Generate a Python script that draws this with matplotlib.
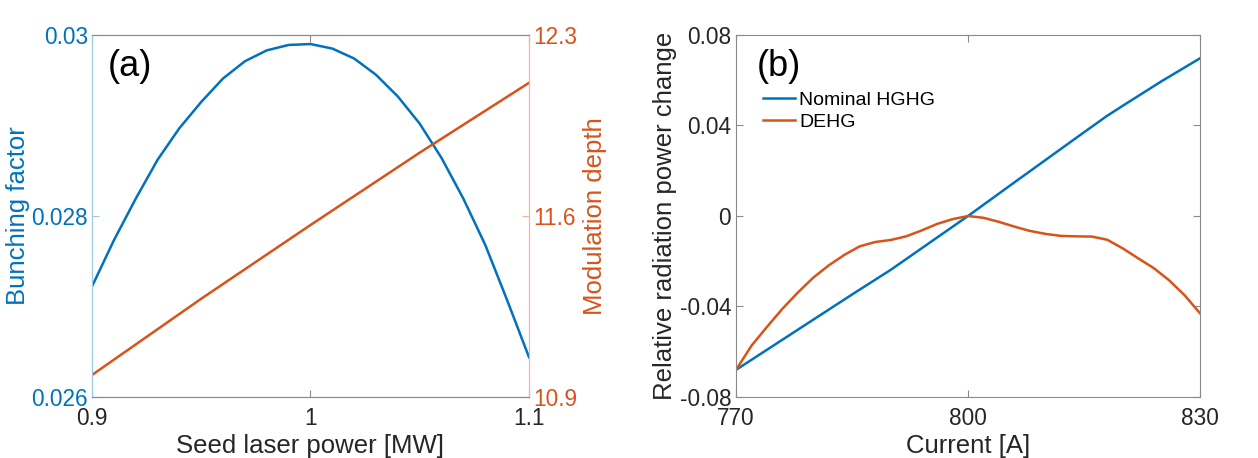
import numpy as np
import matplotlib
matplotlib.use('Agg')
import matplotlib.pyplot as plt

plt.rcParams['font.family'] = ['Liberation Sans', 'DejaVu Sans']
plt.rcParams['axes.unicode_minus'] = False

# (a) seed laser power scan
power = [0.90, 0.91, 0.92, 0.93, 0.94, 0.95, 0.96, 0.97, 0.98, 0.99, 1.00,
         1.01, 1.02, 1.03, 1.04, 1.05, 1.06, 1.07, 1.08, 1.09, 1.10]
bunching = [0.02722, 0.02773, 0.02819, 0.02862, 0.02897, 0.02926, 0.02952,
            0.02971, 0.02983, 0.02989, 0.02990, 0.02985, 0.02974, 0.02956,
            0.02932, 0.02902, 0.02864, 0.02819, 0.02768, 0.02707, 0.02644]
power_md = [0.90, 0.95, 1.00, 1.05, 1.10]
mod_depth = [10.985, 11.280, 11.565, 11.845, 12.115]

# (b) current scan
current_hghg = [770, 775, 780, 785, 790, 795, 800, 805, 810, 815, 818, 820, 825, 830]
hghg = [-0.0680, -0.0569, -0.0458, -0.0347, -0.0238, -0.0119, 0.0,
        0.0124, 0.0247, 0.0370, 0.0443, 0.0487, 0.0595, 0.0697]
current_dehg = list(range(770, 832, 2))
dehg = [-0.0680, -0.0573, -0.0490, -0.0410, -0.0338, -0.0272, -0.0218,
        -0.0172, -0.0134, -0.0115, -0.0106, -0.0090, -0.0064, -0.0035,
        -0.0014, 0.0, -0.0008, -0.0026, -0.0047, -0.0066, -0.0079, -0.0088,
        -0.0090, -0.0091, -0.0105, -0.0143, -0.0187, -0.0230, -0.0284,
        -0.0350, -0.0430]

blue = '#0072BD'
orange = '#D95319'
grey = '#262626'
spine_grey = '#8a8a8a'
tick_fs = 16.3
label_fs = 18.5

fig = plt.figure(figsize=(12.58, 4.58), dpi=100)
ax1 = fig.add_axes([0.0731, 0.1332, 0.3474, 0.7904])
ax2 = ax1.twinx()
ax3 = fig.add_axes([0.5851, 0.1332, 0.3688, 0.7904])

# panel (a)
ax1.plot(power, bunching, color=blue, lw=1.8)
ax2.plot(power_md, mod_depth, color=orange, lw=1.8)
ax1.set_xlim(0.9, 1.1)
ax1.set_ylim(0.026, 0.030)
ax2.set_ylim(10.9, 12.3)
ax1.set_xticks([0.9, 1.0, 1.1])
ax1.set_xticklabels(['0.9', '1', '1.1'])
ax1.set_yticks([0.026, 0.028, 0.030])
ax1.set_yticklabels(['0.026', '0.028', '0.03'])
ax2.set_yticks([10.9, 11.6, 12.3])
ax2.set_yticklabels(['10.9', '11.6', '12.3'])
ax1.tick_params(axis='x', direction='in', length=5, labelsize=tick_fs, colors=spine_grey,
                labelcolor=grey, top=True, pad=7)
ax1.tick_params(axis='y', direction='in', length=5, labelsize=tick_fs, colors='#9fc8e6',
                labelcolor=blue, pad=3)
ax2.tick_params(axis='y', direction='in', length=5, labelsize=tick_fs, colors='#f0b49b',
                labelcolor=orange, pad=3)
ax1.set_xlabel('Seed laser power [MW]', fontsize=label_fs, color=grey, labelpad=3)
ax1.set_ylabel('Bunching factor', fontsize=label_fs, color=blue, labelpad=1)
ax2.set_ylabel('Modulation depth', fontsize=label_fs, color=orange, labelpad=4)
for ax in (ax1, ax2):
    ax.spines['top'].set_color(spine_grey)
    ax.spines['bottom'].set_color(spine_grey)
    ax.spines['left'].set_color('#9fc8e6')
    ax.spines['right'].set_color('#f0b49b')
    for s in ax.spines.values():
        s.set_linewidth(0.8)
ax1.text(0.035, 0.912, '(a)', transform=ax1.transAxes, fontsize=26,
         ha='left', va='center', color='black')

# panel (b)
ax3.plot(current_hghg, hghg, color=blue, lw=1.8, label='Nominal HGHG')
ax3.plot(current_dehg, dehg, color=orange, lw=1.8, label='DEHG')
ax3.set_xlim(770, 830)
ax3.set_ylim(-0.08, 0.08)
ax3.set_xticks([770, 800, 830])
ax3.set_yticks([-0.08, -0.04, 0, 0.04, 0.08])
ax3.set_yticklabels(['-0.08', '-0.04', '0', '0.04', '0.08'])
ax3.tick_params(direction='in', length=5, labelsize=tick_fs, colors=spine_grey,
                labelcolor=grey, top=True, right=True)
ax3.tick_params(axis='x', pad=7)
ax3.set_xlabel('Current [A]', fontsize=label_fs, color=grey, labelpad=3)
ax3.set_ylabel('Relative radiation power change', fontsize=label_fs, color=grey, labelpad=2)
for s in ax3.spines.values():
    s.set_color(spine_grey)
    s.set_linewidth(0.8)
ax3.text(0.045, 0.912, '(b)', transform=ax3.transAxes, fontsize=26,
         ha='left', va='center', color='black')
ax3.legend(loc='upper left', bbox_to_anchor=(0.058, 0.845), frameon=False,
           fontsize=14, borderpad=0, borderaxespad=0, handlelength=1.65,
           handletextpad=0.2, labelspacing=0.25)

fig.savefig('out.png', dpi=100)
